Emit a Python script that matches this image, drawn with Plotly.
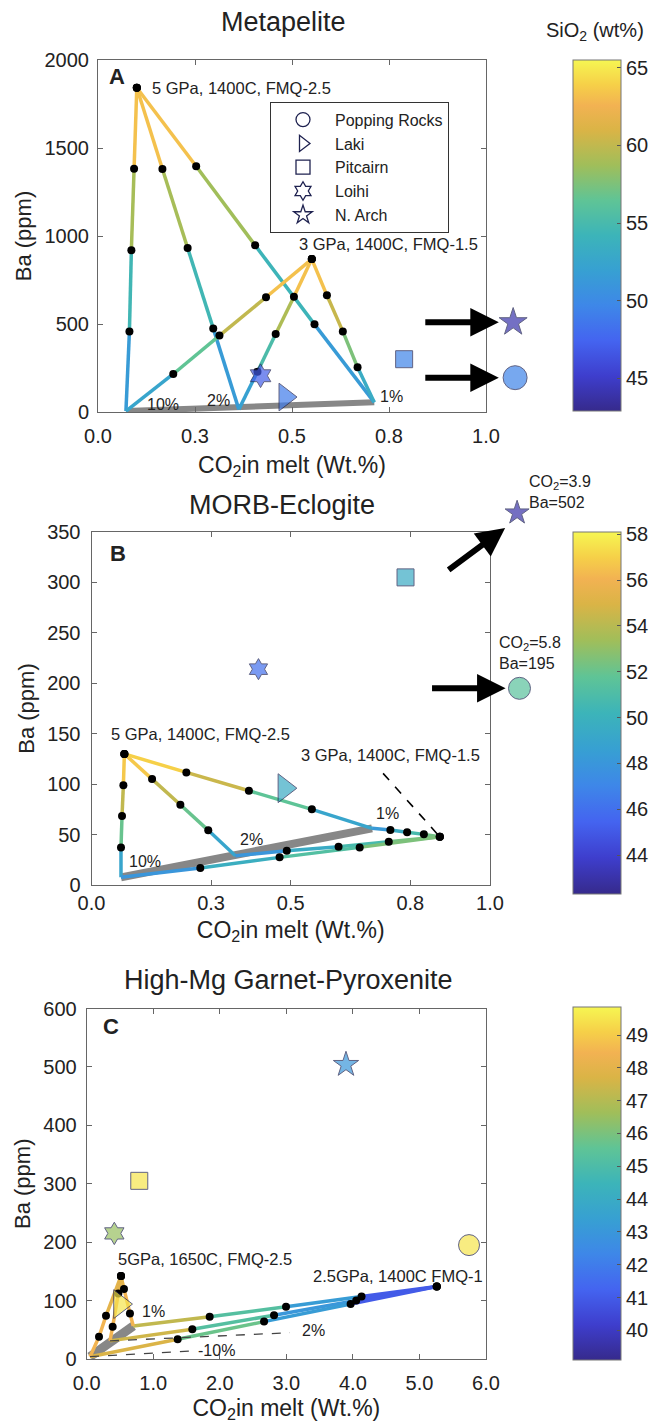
import plotly.graph_objects as go
from plotly.colors import sample_colorscale

W, H = 656, 1427
FONT = "Liberation Sans, Arial, Helvetica, sans-serif"
TXT = "#222222"
EDGE = "#1f2250"

PARULA = [
    [0.00, "rgb(54,42,140)"], [0.10, "rgb(62,62,205)"], [0.20, "rgb(68,100,240)"],
    [0.30, "rgb(62,135,232)"], [0.40, "rgb(55,160,210)"], [0.50, "rgb(60,180,185)"],
    [0.60, "rgb(95,196,150)"], [0.70, "rgb(160,190,90)"], [0.80, "rgb(218,180,70)"],
    [0.87, "rgb(242,178,82)"], [0.93, "rgb(246,208,72)"], [1.00, "rgb(246,246,82)"],
]

# ---------------- data ----------------
SAMPLE_NAMES = ["Popping Rocks", "Laki", "Pitcairn", "Loihi", "N. Arch"]
SAMPLE_SYMBOLS = ["circle", "triangle-right", "square", "hexagram", "star"]

# Panel A: Metapelite
A_P5_10_x = [0.100, 0.093, 0.086, 0.081, 0.072]
A_P5_10_y = [1842, 1382, 919, 458, 5]
A_P5_10_si = [65, 61.5, 56.5, 52.5, 50.5]
A_P5_2_x = [0.100, 0.166, 0.231, 0.297, 0.363]
A_P5_2_y = [1842, 1381, 932, 475, 15]
A_P5_2_si = [65, 61.5, 56.5, 52.5, 50.5]
A_P5_1_x = [0.100, 0.253, 0.405, 0.558, 0.712]
A_P5_1_y = [1842, 1396, 947, 498, 55]
A_P5_1_si = [65, 61.5, 56, 52.5, 50.5]
A_P3_10_x = [0.551, 0.433, 0.313, 0.194, 0.072]
A_P3_10_y = [869, 652, 434, 216, 5]
A_P3_10_si = [65, 61.5, 58.5, 54.5, 50.5]
A_P3_2_x = [0.551, 0.505, 0.458, 0.411, 0.363]
A_P3_2_y = [869, 655, 443, 229, 15]
A_P3_2_si = [65, 61.5, 57, 53.5, 50.5]
A_P3_1_x = [0.551, 0.590, 0.631, 0.669, 0.712]
A_P3_1_y = [869, 663, 458, 254, 55]
A_P3_1_si = [65, 61.5, 59, 56, 50.5]
A_SAMPLE_X = [1.075, 0.482, 0.789, 0.419, 1.070]
A_SAMPLE_Y = [195, 85, 300, 206, 510]
A_SAMPLE_SI = [49.5, 49, 49.5, 47, 44]
A_SIO2_RANGE = [42.9, 65.5]

# Panel B: MORB-Eclogite
B_P5_10_x = [0.0825, 0.080, 0.0766, 0.074, 0.074]
B_P5_10_y = [130, 99, 68.4, 37.3, 7.6]
B_P5_10_si = [58, 55.5, 53, 51, 47]
B_P5_2_x = [0.0825, 0.152, 0.223, 0.293, 0.361]
B_P5_2_y = [130, 105, 79.6, 54.2, 29]
B_P5_2_si = [58, 55.5, 53, 51, 47]
B_P5_1_x = [0.0825, 0.238, 0.395, 0.553, 0.704]
B_P5_1_y = [130, 111.6, 93.4, 75, 56.2]
B_P5_1_si = [58, 56, 53, 50.5, 47.5]
B_P3_1_x = [0.874, 0.834, 0.792, 0.750, 0.704]
B_P3_1_y = [47.9, 50.2, 52.2, 54.5, 56.2]
B_P3_1_si = [53, 51.5, 50, 49, 47.5]
B_P3_2_x = [0.874, 0.746, 0.620, 0.490, 0.361]
B_P3_2_y = [47.9, 42.9, 37.9, 34, 29]
B_P3_2_si = [53, 51.5, 50, 49, 47]
B_P3_10_x = [0.874, 0.673, 0.472, 0.273, 0.074]
B_P3_10_y = [47.9, 37.3, 27.4, 16.8, 7.6]
B_P3_10_si = [53, 52, 50.5, 49, 47]
B_SAMPLE_X = [1.074, 0.484, 0.788, 0.419, 1.068]
B_SAMPLE_Y = [195, 96, 305, 214, 369]
B_SAMPLE_SI = [51.5, 49.5, 49.5, 46, 43]
B_SIO2_RANGE = [42.3, 58.1]
B_NARCH_TEXT = "CO<sub>2</sub>=3.9<br>Ba=502"
B_POP_TEXT = "CO<sub>2</sub>=5.8<br>Ba=195"

# Panel C: High-Mg Garnet-Pyroxenite
C_P5_10_x = [0.515, 0.29, 0.185, 0.05]
C_P5_10_y = [142, 74, 38, 4]
C_P5_10_si = [47.5, 48.5, 48.5, 48.5]
C_P5_2_x = [0.515, 0.475, 0.39, 0.35]
C_P5_2_y = [142, 112, 55, 31]
C_P5_2_si = [47.5, 48.5, 48.5, 48.5]
C_P5_1_x = [0.515, 0.56, 0.65, 0.70]
C_P5_1_y = [142, 120, 78, 56.5]
C_P5_1_si = [47.5, 48.5, 48.5, 48.5]
C_P25_1_x = [5.26, 4.13, 2.995, 1.848, 0.70]
C_P25_1_y = [124, 107, 89.5, 72.4, 56.5]
C_P25_1_si = [40, 42, 44.5, 46, 48.5]
C_P25_2_x = [5.26, 4.05, 2.815, 1.587, 0.35]
C_P25_2_y = [124, 100, 75, 51, 31]
C_P25_2_si = [40, 42, 44, 46.5, 48.5]
C_P25_10_x = [5.26, 3.966, 2.665, 1.367, 0.05]
C_P25_10_y = [124, 94, 64, 33.7, 4]
C_P25_10_si = [40, 42, 44.5, 47, 48.5]
C_SAMPLE_X = [5.745, 0.50, 0.79, 0.415, 3.896]
C_SAMPLE_Y = [195, 94, 305, 215, 504]
C_SAMPLE_SI = [49.5, 49.5, 49.5, 46.5, 43]
C_SIO2_RANGE = [39.1, 49.86]
C_DASH_2_END = [3.055, 45]
C_DASH_10_END = [1.60, 14]

# ---------------- geometry (pixels of each axes box) ----------------
A_BOX = dict(x0=98, x1=486, y0=60, y1=412)
B_BOX = dict(x0=91.5, x1=490, y0=532, y1=885)
C_BOX = dict(x0=86.7, x1=486, y0=1008.5, y1=1359)
EXT_RIGHT = 650     # extended invisible axes for marks drawn beyond the box
B_EXT_TOP = 460


def px_x(p):
    return p / W


def px_y(p):
    return 1 - p / H


fig = go.Figure()


def add_path(x, y, si, rng, xa, ya, width=3.5):
    lo, hi = rng
    for i in range(len(x) - 1):
        v = ((si[i] + si[i + 1]) / 2 - lo) / (hi - lo)
        col = sample_colorscale(PARULA, [min(max(v, 0), 1)])[0]
        fig.add_trace(go.Scatter(x=x[i:i + 2], y=y[i:i + 2], mode="lines",
                                 line=dict(color=col, width=width),
                                 xaxis=xa, yaxis=ya, showlegend=False, hoverinfo="skip"))


def add_dots(paths, xa, ya, size=8):
    xs, ys = [], []
    for px, py in paths:
        xs += px[:-1]
        ys += py[:-1]
    fig.add_trace(go.Scatter(x=xs, y=ys, mode="markers", marker=dict(color="black", size=size),
                             xaxis=xa, yaxis=ya, showlegend=False, hoverinfo="skip"))


def add_band(p0, p1, xa, ya, width=7):
    fig.add_trace(go.Scatter(x=[p0[0], p1[0]], y=[p0[1], p1[1]], mode="lines",
                             line=dict(color="rgb(135,135,135)", width=width),
                             xaxis=xa, yaxis=ya, showlegend=False, hoverinfo="skip"))


def add_samples(sx, sy, ssi, sizes, xa, ya, cax):
    fig.add_trace(go.Scatter(x=sx, y=sy, mode="markers",
                             marker=dict(symbol=SAMPLE_SYMBOLS, size=sizes, color=ssi, coloraxis=cax,
                                         line=dict(color=EDGE, width=1)),
                             xaxis=xa, yaxis=ya, showlegend=False, hoverinfo="skip"))


# ---- Panel A
add_band([A_P5_10_x[-1], A_P5_10_y[-1]], [A_P5_1_x[-1], A_P5_1_y[-1]], "x", "y", 6)
for px, py, ps in [(A_P5_10_x, A_P5_10_y, A_P5_10_si), (A_P5_2_x, A_P5_2_y, A_P5_2_si),
                   (A_P5_1_x, A_P5_1_y, A_P5_1_si), (A_P3_10_x, A_P3_10_y, A_P3_10_si),
                   (A_P3_2_x, A_P3_2_y, A_P3_2_si), (A_P3_1_x, A_P3_1_y, A_P3_1_si)]:
    add_path(px, py, ps, A_SIO2_RANGE, "x", "y")
add_dots([(A_P5_10_x, A_P5_10_y), (A_P5_2_x, A_P5_2_y), (A_P5_1_x, A_P5_1_y),
          (A_P3_10_x, A_P3_10_y), (A_P3_2_x, A_P3_2_y), (A_P3_1_x, A_P3_1_y)], "x", "y")
add_samples(A_SAMPLE_X, A_SAMPLE_Y, A_SAMPLE_SI, [24, 24, 17, 18, 21], "x4", "y", "coloraxis")

# ---- Panel B
add_band([B_P5_10_x[-1], B_P5_10_y[-1]], [B_P5_1_x[-1], B_P5_1_y[-1]], "x2", "y2", 8)
for px, py, ps in [(B_P5_10_x, B_P5_10_y, B_P5_10_si), (B_P5_2_x, B_P5_2_y, B_P5_2_si),
                   (B_P5_1_x, B_P5_1_y, B_P5_1_si), (B_P3_1_x, B_P3_1_y, B_P3_1_si),
                   (B_P3_2_x, B_P3_2_y, B_P3_2_si), (B_P3_10_x, B_P3_10_y, B_P3_10_si)]:
    add_path(px, py, ps, B_SIO2_RANGE, "x2", "y2")
add_dots([(B_P5_10_x, B_P5_10_y), (B_P5_2_x, B_P5_2_y), (B_P5_1_x, B_P5_1_y),
          (B_P3_1_x, B_P3_1_y), (B_P3_2_x, B_P3_2_y), (B_P3_10_x, B_P3_10_y)], "x2", "y2")
fig.add_trace(go.Scatter(x=[0.7317, B_P3_1_x[0] - 0.007], y=[110.7, B_P3_1_y[0] + 3], mode="lines",
                         line=dict(color="black", width=1.6, dash="dash"),
                         xaxis="x2", yaxis="y2", showlegend=False, hoverinfo="skip"))
add_samples(B_SAMPLE_X, B_SAMPLE_Y, B_SAMPLE_SI, [22, 25, 17, 16, 18], "x5", "y5", "coloraxis2")

# ---- Panel C
add_band([C_P5_10_x[-1], C_P5_10_y[-1]], [C_P5_1_x[-1], C_P5_1_y[-1]], "x3", "y3", 9)
for px, py, ps in [(C_P25_1_x, C_P25_1_y, C_P25_1_si), (C_P25_2_x, C_P25_2_y, C_P25_2_si),
                   (C_P25_10_x, C_P25_10_y, C_P25_10_si), (C_P5_10_x, C_P5_10_y, C_P5_10_si),
                   (C_P5_2_x, C_P5_2_y, C_P5_2_si), (C_P5_1_x, C_P5_1_y, C_P5_1_si)]:
    add_path(px, py, ps, C_SIO2_RANGE, "x3", "y3")
for start, end in [([C_P5_2_x[-1], C_P5_2_y[-1]], C_DASH_2_END),
                   ([C_P5_10_x[-1], C_P5_10_y[-1]], C_DASH_10_END)]:
    fig.add_trace(go.Scatter(x=[start[0], end[0]], y=[start[1], end[1]], mode="lines",
                             line=dict(color="#444", width=1.3, dash="dash"),
                             xaxis="x3", yaxis="y3", showlegend=False, hoverinfo="skip"))
add_dots([(C_P5_10_x, C_P5_10_y), (C_P5_2_x, C_P5_2_y), (C_P5_1_x, C_P5_1_y),
          (C_P25_1_x, C_P25_1_y), (C_P25_2_x, C_P25_2_y), (C_P25_10_x, C_P25_10_y)], "x3", "y3")
add_samples(C_SAMPLE_X, C_SAMPLE_Y, C_SAMPLE_SI, [21, 25, 17, 17, 19], "x3", "y3", "coloraxis3")

# ---- legend entries (panel A)
for name, sym in zip(SAMPLE_NAMES, SAMPLE_SYMBOLS):
    fig.add_trace(go.Scatter(x=[None], y=[None], mode="markers", name=name,
                             marker=dict(symbol=sym + "-open", size=14, color=EDGE, line=dict(width=1.3)),
                             xaxis="x", yaxis="y", showlegend=True))

# ---------------- layout ----------------
AX = dict(showline=True, linecolor="#666", linewidth=1, mirror="ticks", ticks="inside", ticklen=5,
          tickcolor="#666", showgrid=False, zeroline=False,
          tickfont=dict(size=20, color=TXT, family=FONT))
XTITLE = dict(text="CO<sub>2</sub>in melt (Wt.%)", font=dict(size=23, color=TXT, family=FONT))
YTITLE = dict(text="Ba (ppm)", font=dict(size=22, color=TXT, family=FONT))


def dom_x(b):
    return [px_x(b["x0"]), px_x(b["x1"])]


def dom_y(b):
    return [px_y(b["y1"]), px_y(b["y0"])]


HIDDEN = dict(visible=False, showgrid=False, zeroline=False, fixedrange=True)

layout = dict(
    width=W, height=H, margin=dict(l=0, r=0, t=0, b=0, autoexpand=False),
    paper_bgcolor="white", plot_bgcolor="rgba(0,0,0,0)",
    font=dict(family=FONT, color=TXT),
    xaxis=dict(AX, domain=dom_x(A_BOX), anchor="y", range=[0, 1],
               tickvals=[0, 0.25, 0.5, 0.75, 1.0], ticktext=["0.0", "0.3", "0.5", "0.8", "1.0"],
               title=dict(XTITLE, standoff=10), ticklabelstandoff=6),
    yaxis=dict(AX, domain=dom_y(A_BOX), anchor="x", range=[0, 2000], dtick=500,
               title=dict(YTITLE, standoff=6), ticklabelstandoff=4),
    xaxis2=dict(AX, domain=dom_x(B_BOX), anchor="y2", range=[0, 1],
                tickvals=[0, 0.3, 0.5, 0.8, 1.0], tickformat=".1f",
                title=dict(XTITLE, standoff=8), ticklabelstandoff=0),
    yaxis2=dict(AX, domain=dom_y(B_BOX), anchor="x2", range=[0, 350], dtick=50,
                title=dict(YTITLE, standoff=6), ticklabelstandoff=6),
    xaxis3=dict(AX, domain=dom_x(C_BOX), anchor="y3", range=[0, 6], dtick=1, tickformat=".1f",
                title=dict(XTITLE, standoff=6), ticklabelstandoff=6),
    yaxis3=dict(AX, domain=dom_y(C_BOX), anchor="x3", range=[0, 600], dtick=100,
                title=dict(YTITLE, standoff=6), ticklabelstandoff=5),
    # invisible extensions of A and B so that off-box samples use the same data scale
    xaxis4=dict(HIDDEN, domain=[px_x(A_BOX["x0"]), px_x(EXT_RIGHT)], anchor="y",
                range=[0, (EXT_RIGHT - A_BOX["x0"]) / (A_BOX["x1"] - A_BOX["x0"])]),
    xaxis5=dict(HIDDEN, domain=[px_x(B_BOX["x0"]), px_x(EXT_RIGHT)], anchor="y5",
                range=[0, (EXT_RIGHT - B_BOX["x0"]) / (B_BOX["x1"] - B_BOX["x0"])]),
    yaxis5=dict(HIDDEN, domain=[px_y(B_BOX["y1"]), px_y(B_EXT_TOP)], anchor="x5",
                range=[0, 350 * (B_BOX["y1"] - B_EXT_TOP) / (B_BOX["y1"] - B_BOX["y0"])]),
    legend=dict(x=px_x(270), y=px_y(101.7), xanchor="left", yanchor="top", bgcolor="white",
                bordercolor="#333", borderwidth=1, font=dict(size=16, color=TXT, family=FONT),
                itemwidth=54, tracegroupgap=0),
    showlegend=True,
)


def cbar(y0, y1, vals):
    return dict(x=px_x(573), xanchor="left", xpad=0, ypad=0, thickness=48, thicknessmode="pixels",
                len=(y1 - y0) / H, lenmode="fraction", y=px_y((y0 + y1) / 2), yanchor="middle",
                tickvals=vals, ticks="inside", ticklen=4, tickcolor="#555",
                outlinecolor="#777", outlinewidth=1, tickfont=dict(size=20, color=TXT, family=FONT))


layout["coloraxis"] = dict(colorscale=PARULA, cmin=A_SIO2_RANGE[0], cmax=A_SIO2_RANGE[1],
                           colorbar=cbar(60, 411, [45, 50, 55, 60, 65]))
layout["coloraxis2"] = dict(colorscale=PARULA, cmin=B_SIO2_RANGE[0], cmax=B_SIO2_RANGE[1],
                            colorbar=cbar(532, 894, list(range(44, 59, 2))))
layout["coloraxis3"] = dict(colorscale=PARULA, cmin=C_SIO2_RANGE[0], cmax=C_SIO2_RANGE[1],
                            colorbar=cbar(1006.7, 1360, list(range(40, 50))))

ann = []


def ptext(text, x, y, size, xanchor="center"):
    ann.append(dict(text=text, x=px_x(x), y=px_y(y), xref="paper", yref="paper", showarrow=False,
                    xanchor=xanchor, yanchor="middle", font=dict(size=size, color=TXT, family=FONT)))


def dtext(text, x, y, xa, ya, size=16.5, xanchor="left", **kw):
    ann.append(dict(text=text, x=x, y=y, xref=xa, yref=ya, showarrow=False, xanchor=xanchor,
                    yanchor="middle", font=dict(size=size, color=TXT, family=FONT), **kw))


def arrow(tx, ty, ax, ay, xa, ya):
    ann.append(dict(x=tx, y=ty, xref=xa, yref=ya, ax=ax, ay=ay, axref="pixel", ayref="pixel",
                    showarrow=True, arrowhead=2, arrowsize=0.95, arrowwidth=6, arrowcolor="black",
                    text="", standoff=0))


# titles
ptext("Metapelite", 283, 22, 27)
ptext("MORB-Eclogite", 282, 505, 27)
ptext("High-Mg Garnet-Pyroxenite", 288, 980, 27)
ptext("SiO<sub>2</sub> (wt%)", 595, 31, 20)
# panel letters
ptext("<b>A</b>", 107, 77, 22, xanchor="left")
ptext("<b>B</b>", 108, 553, 22, xanchor="left")
ptext("<b>C</b>", 101, 1026, 22, xanchor="left")

# panel A annotations
dtext("5 GPa, 1400C, FMQ-2.5", A_P5_1_x[0] + 0.035, A_P5_1_y[0], "x", "y")
dtext("3 GPa, 1400C, FMQ-1.5", 0.514, 953, "x", "y")
dtext("10%", 0.168, 40, "x", "y", 16, "center")
dtext("2%", 0.31, 68, "x", "y", 16, "center")
dtext("1%", 0.757, 87, "x", "y", 16, "center")
arrow(A_SAMPLE_X[4] - 0.037, A_SAMPLE_Y[4], -75, 0, "x4", "y")
arrow(A_SAMPLE_X[0] - 0.042, A_SAMPLE_Y[0], -75, 0, "x4", "y")

# panel B annotations
dtext("5 GPa, 1400C, FMQ-2.5", 0.0447, 149.3, "x2", "y2")
dtext("3 GPa, 1400C, FMQ-1.5", 0.52, 128.8, "x2", "y2")
dtext("10%", 0.134, 23, "x2", "y2", 16, "center")
dtext("2%", 0.4025, 45.6, "x2", "y2", 16, "center")
dtext("1%", 0.743, 71, "x2", "y2", 16, "center")
arrow(B_SAMPLE_X[4] - 0.03, B_SAMPLE_Y[4] - 15, -58, 43, "x5", "y5")
arrow(B_SAMPLE_X[0] - 0.035, B_SAMPLE_Y[0], -75, 0, "x5", "y5")
dtext(B_NARCH_TEXT, 1.094, 390, "x5", "y5", 16, "left", align="left")
dtext(B_POP_TEXT, 1.018, 230, "x5", "y5", 16, "left", align="left")

# panel C annotations
dtext("5GPa, 1650C, FMQ-2.5", 0.44, 170.6, "x3", "y3")
dtext("2.5GPa, 1400C FMQ-1", 3.366, 142, "x3", "y3")
dtext("1%", 1.01, 81, "x3", "y3", 16, "center")
dtext("2%", 3.405, 48.5, "x3", "y3", 16, "center")
dtext("-10%", 1.953, 15.4, "x3", "y3", 16, "center")

layout["annotations"] = ann
fig.update_layout(**layout)
fig.write_html("out.html", config={"displayModeBar": False},
               post_script="document.body.style.margin='0';")
